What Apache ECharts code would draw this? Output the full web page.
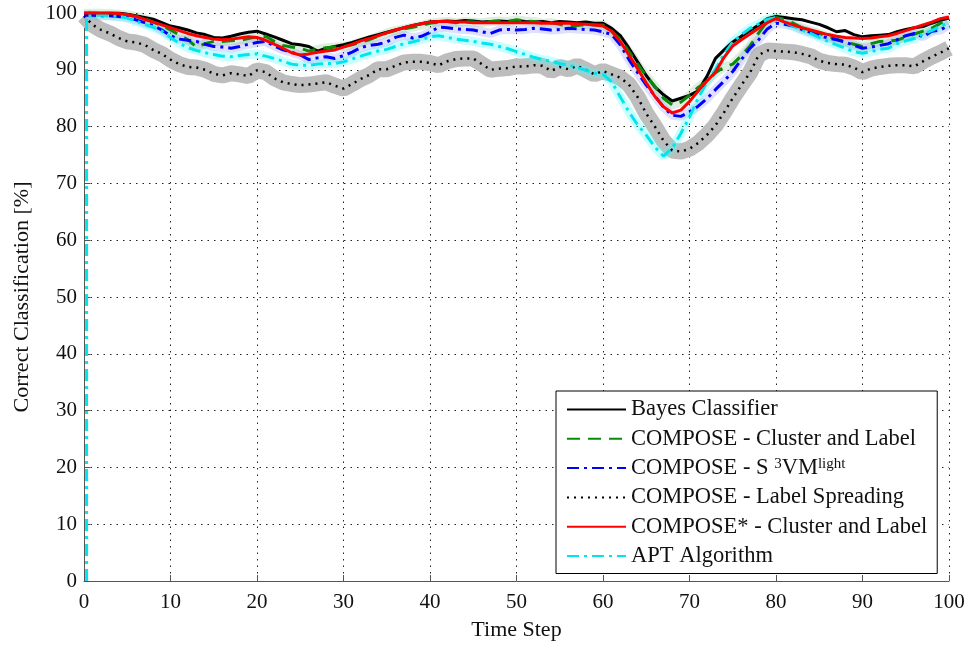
<!DOCTYPE html>
<html>
<head>
<meta charset="utf-8">
<title>Correct Classification</title>
<script src="https://cdn.jsdelivr.net/npm/echarts@6/dist/echarts.min.js"></script>
<style>
    html, body { margin: 0; padding: 0; background: #fff; }
    #main { width: 974px; height: 648px; }
</style>
</head>
<body>
<div id="main"></div>
<script>
// time steps 0..100
var timeSteps = [];
for (var t = 0; t <= 100; t++) timeSteps.push(t);

var bayes = [100, 100, 100, 100, 100, 99.8, 99.5, 99.2, 98.9, 98.3, 97.7, 97.4, 97.0, 96.5, 96.2, 95.7, 95.6, 95.9, 96.3, 96.6, 96.8,
    96.3, 95.8, 95.2, 94.6, 94.4, 94.1, 93.3, 93.8, 94.1, 94.4, 94.8, 95.3, 95.8, 96.2, 96.6, 97.0, 97.4, 97.8, 98.1, 98.4,
    98.5, 98.6, 98.5, 98.7, 98.6, 98.4, 98.5, 98.6, 98.5, 98.7, 98.5, 98.4, 98.5, 98.3, 98.5, 98.4, 98.3, 98.4, 98.2, 98.2,
    97.3, 96.0, 93.8, 91.4, 89.0, 87.0, 85.6, 84.5, 85.0, 85.5, 86.3, 88.8, 92.0, 93.5, 94.9, 95.9, 96.9, 97.9, 99.0, 99.4,
    99.2, 99.0, 98.8, 98.4, 98.0, 97.4, 96.7, 96.9, 96.2, 95.8, 96.0, 96.1, 96.2, 96.7, 97.1, 97.4, 97.6, 98.2, 98.7, 99.1];

var clusterLabel = [100, 100, 100, 99.9, 99.8, 99.7, 99.4, 99.0, 98.4, 97.8, 97.0, 96.2, 95.3, 94.0, 94.6, 95.0, 95.0, 95.1, 95.2, 95.5, 95.8,
    95.9, 95.0, 94.3, 94.0, 93.8, 93.3, 93.6, 93.9, 94.0, 94.1, 94.4, 94.9, 95.3, 95.9, 96.5, 96.9, 97.2, 97.5, 97.8, 98.2,
    98.4, 98.5, 98.3, 98.5, 98.4, 98.3, 98.5, 98.6, 98.5, 98.8, 98.6, 98.5, 98.2, 98.3, 98.0, 97.6, 97.8, 98.0, 97.9, 97.9,
    96.8, 95.3, 93.2, 91.0, 88.9, 87.1, 85.0, 83.8, 84.3, 85.5, 86.9, 88.0, 89.5, 90.5, 91.0, 92.5, 94.2, 96.5, 98.5, 99.2,
    98.9, 98.2, 97.4, 96.9, 96.4, 95.9, 95.4, 94.9, 94.5, 94.1, 94.6, 95.0, 95.1, 95.2, 95.8, 96.3, 96.8, 97.3, 98.2, 99.1];

var s3vm = [99.6, 99.6, 99.5, 99.5, 99.4, 99.2, 98.8, 98.3, 97.8, 97.0, 96.0, 95.4, 95.2, 95.0, 94.5, 94.1, 94.0, 93.8, 94.1, 94.5, 94.8,
    95.0, 94.2, 93.5, 93.1, 92.6, 91.8, 92.1, 92.3, 92.0, 92.5, 93.1, 93.9, 94.3, 94.5, 94.9, 95.7, 96.1, 95.6, 95.9, 96.6,
    97.5, 97.4, 97.2, 97.1, 97.0, 96.7, 96.4, 97.0, 97.1, 97.0, 97.1, 97.3, 97.2, 97.0, 97.1, 97.3, 97.2, 97.1, 97.0, 96.7,
    96.2, 94.4, 91.8, 89.5, 87.3, 85.4, 83.4, 82.0, 81.8, 82.6, 83.6, 84.9, 86.5, 88.0, 89.7, 91.8, 93.8, 95.3, 97.2, 98.2,
    98.0, 97.7, 97.1, 96.6, 96.0, 95.6, 95.3, 94.9, 94.3, 93.8, 94.0, 94.3, 94.6, 95.3, 96.0, 96.4, 95.8, 96.8, 97.0, 97.9];

var labelSpreading = [99.5, 97.9, 97.0, 96.4, 95.6, 95.0, 94.8, 94.4, 93.5, 92.8, 91.8, 91.0, 90.5, 90.4, 90.0, 89.3, 89.0, 89.4, 89.2, 88.9, 89.9,
    89.6, 88.5, 87.8, 87.5, 87.3, 87.4, 87.6, 87.8, 87.2, 86.7, 87.5, 88.4, 89.1, 90.1, 90.1, 90.7, 91.3, 91.4, 91.4, 91.2,
    90.8, 91.5, 91.9, 92.0, 92.0, 91.0, 90.0, 90.2, 90.3, 90.6, 90.6, 90.8, 90.7, 89.8, 90.5, 90.1, 90.7, 90.0, 89.2, 89.8,
    89.2, 88.6, 87.4, 85.2, 82.3, 80.0, 77.5, 75.8, 75.6, 76.1, 77.1, 78.5, 80.2, 82.5, 85.0, 87.3, 89.5, 92.6, 93.4, 93.3,
    93.2, 93.1, 92.8, 92.4, 91.6, 91.2, 91.0, 90.9, 90.4, 89.6, 90.2, 90.5, 90.7, 90.8, 90.8, 90.6, 91.5, 92.3, 93.0, 93.8];

var composeStar = [100, 100, 100, 100, 99.9, 99.7, 99.4, 98.9, 98.4, 97.9, 97.4, 96.9, 96.4, 96.0, 95.7, 95.4, 95.3, 95.4, 95.6, 95.8, 95.7,
    95.2, 94.5, 93.8, 93.0, 92.6, 92.8, 93.1, 93.3, 93.5, 94.0, 94.5, 95.1, 95.5, 96.0, 96.5, 97.0, 97.4, 97.8, 98.1, 98.4,
    98.5, 98.5, 98.4, 98.4, 98.3, 98.3, 98.3, 98.3, 98.3, 98.3, 98.3, 98.3, 98.2, 98.2, 98.2, 98.2, 98.1, 98.0, 97.9, 97.7,
    96.8, 95.0, 92.6, 90.2, 87.7, 85.3, 83.5, 82.4, 82.9, 84.4, 86.3, 88.0, 89.6, 92.2, 94.2, 95.3, 96.3, 97.3, 98.3, 99.0,
    98.4, 97.9, 97.4, 97.0, 96.6, 96.2, 95.9, 95.7, 95.6, 95.5, 95.6, 95.8, 96.0, 96.4, 96.9, 97.4, 97.9, 98.4, 99.0, 99.3];

// APT starts with a vertical rise just after t = 0, then one value per step 1..100
var aptLeadSteps = [0.3, 0.3];
var aptLeadValues = [0, 99.5];
var apt = [99.6, 99.6, 99.5, 99.4, 99.1, 98.6, 98.0, 97.5, 96.8, 95.7, 94.7, 93.9, 93.4, 93.0, 92.7, 92.4, 92.3, 92.5, 92.7, 92.8,
    92.4, 92.0, 91.5, 91.0, 90.8, 90.8, 91.0, 91.1, 91.1, 91.4, 91.9, 92.4, 92.9, 93.3, 93.6, 94.1, 94.6, 94.9, 95.3, 95.8,
    96.0, 95.7, 95.4, 95.2, 95.0, 94.7, 94.5, 94.1, 93.7, 93.2, 92.7, 92.2, 91.8, 91.5, 91.1, 90.8, 90.4, 89.9, 89.4, 89.2,
    87.9, 85.2, 82.6, 80.3, 78.5, 76.4, 74.8, 76.2, 78.8, 81.7, 85.0, 87.8, 90.1, 92.8, 94.9, 96.2, 97.3, 98.1, 98.9, 99.2,
    98.4, 97.7, 97.0, 96.4, 95.7, 95.0, 94.4, 93.8, 93.2, 92.9, 93.2, 93.6, 93.8, 94.6, 95.1, 95.5, 96.3, 96.9, 97.7, 98.2];

var seriesNames = ['Bayes Classifier', 'COMPOSE - Cluster and Label', 'COMPOSE - S3VM',
    'COMPOSE - Label Spreading', 'COMPOSE* - Cluster and Label', 'APT Algorithm'];

var xTicks = [0, 10, 20, 30, 40, 50, 60, 70, 80, 90, 100];
var yTicks = [0, 10, 20, 30, 40, 50, 60, 70, 80, 90, 100];

function pairs(steps, values) {
    var out = [];
    for (var i = 0; i < values.length; i++) out.push([steps[i], values[i]]);
    return out;
}

var aptSteps = aptLeadSteps.concat(timeSteps.slice(1));
var aptValues = aptLeadValues.concat(apt);

var FONT = '"Liberation Serif", "Times New Roman", serif';

function lineSeries(name, data, color, width, type, z, opacity) {
    return {
        name: name,
        type: 'line',
        data: data,
        showSymbol: false,
        symbol: 'none',
        silent: true,
        z: z,
        itemStyle: { color: color },
        lineStyle: { color: color, width: width, type: type, opacity: opacity == null ? 1 : opacity }
    };
}

var chart = echarts.init(document.getElementById('main'), null, { renderer: 'canvas' });

var option = {
    animation: false,
    backgroundColor: '#fff',
    textStyle: { fontFamily: FONT },
    grid: { left: 84, right: 25, top: 13, bottom: 67, outerBoundsMode: 'none', containLabel: false },
    legend: {
        data: seriesNames,
        orient: 'vertical',
        left: 556,
        top: 391,
        padding: [7, 10, 6, 10],
        itemWidth: 59,
        itemHeight: 14,
        itemGap: 6.3,
        backgroundColor: '#fff',
        borderColor: '#000',
        borderWidth: 1,
        borderRadius: 0,
        itemStyle: { opacity: 0 },
        textStyle: {
            fontFamily: FONT,
            fontSize: 22.5,
            color: '#111',
            rich: {
                n: { fontFamily: FONT, fontSize: 22.5, color: '#111' },
                sup: { fontFamily: FONT, fontSize: 15, color: '#111', padding: [0, 0, 8, 0] }
            }
        },
        formatter: function (name) {
            if (name === 'COMPOSE - S3VM') {
                return '{n|COMPOSE - S }{sup|3}{n|VM}{sup|light}';
            }
            return '{n|' + name + '}';
        }
    },
    xAxis: {
        type: 'value',
        min: 0,
        max: 100,
        interval: 10,
        name: 'Time Step',
        nameLocation: 'middle',
        nameGap: 38,
        nameTextStyle: { fontFamily: FONT, fontSize: 22, color: '#111' },
        axisLine: { show: true, lineStyle: { color: '#555', width: 1 } },
        axisTick: { show: true, inside: true, length: 6, lineStyle: { color: '#555' } },
        axisLabel: {
            fontFamily: FONT, fontSize: 21, color: '#111', margin: 11,
            formatter: function (v) { return xTicks.indexOf(v) >= 0 ? String(v) : ''; }
        },
        splitLine: { show: true, lineStyle: { color: '#222', width: 1, type: [1.5, 5] } }
    },
    yAxis: {
        type: 'value',
        min: 0,
        max: 100,
        interval: 10,
        name: 'Correct Classification [%]',
        nameLocation: 'middle',
        nameGap: 51,
        nameTextStyle: { fontFamily: FONT, fontSize: 22, color: '#111' },
        axisLine: { show: true, lineStyle: { color: '#555', width: 1 } },
        axisTick: { show: true, inside: true, length: 6, lineStyle: { color: '#555' } },
        axisLabel: {
            fontFamily: FONT, fontSize: 21, color: '#111', margin: 7,
            formatter: function (v) { return yTicks.indexOf(v) >= 0 ? String(v) : ''; }
        },
        splitLine: { show: true, lineStyle: { color: '#222', width: 1, type: [1.5, 5] } }
    },
    series: [
        // shaded spread bands drawn as wide faint strokes under each line
        lineSeries('spreadBand', pairs(timeSteps, labelSpreading), '#bdbdbd', 16, 'solid', 1),
        lineSeries('s3vmBand', pairs(timeSteps, s3vm), '#8080ff', 9, 'solid', 1, 0.25),
        lineSeries('aptBand', pairs(aptSteps, aptValues).slice(1), '#40ffff', 9, 'solid', 1, 0.3),
        lineSeries('clusterBand', pairs(timeSteps, clusterLabel), '#60b060', 9, 'solid', 1, 0.2),
        lineSeries(seriesNames[3], pairs(timeSteps, labelSpreading), '#000', 2.5, [2, 5], 3),
        lineSeries(seriesNames[0], pairs(timeSteps, bayes), '#000', 3, 'solid', 4),
        lineSeries(seriesNames[1], pairs(timeSteps, clusterLabel), '#0a8a0a', 3, [13, 8], 5),
        lineSeries(seriesNames[2], pairs(timeSteps, s3vm), '#0000ff', 3, [12, 5, 3, 5], 6),
        lineSeries(seriesNames[5], pairs(aptSteps, aptValues), '#00e5ee', 3, [12, 5, 3, 5], 7),
        lineSeries(seriesNames[4], pairs(timeSteps, composeStar), '#ff0000', 3, 'solid', 8)
    ]
};

chart.setOption(option);
</script>
</body>
</html>
